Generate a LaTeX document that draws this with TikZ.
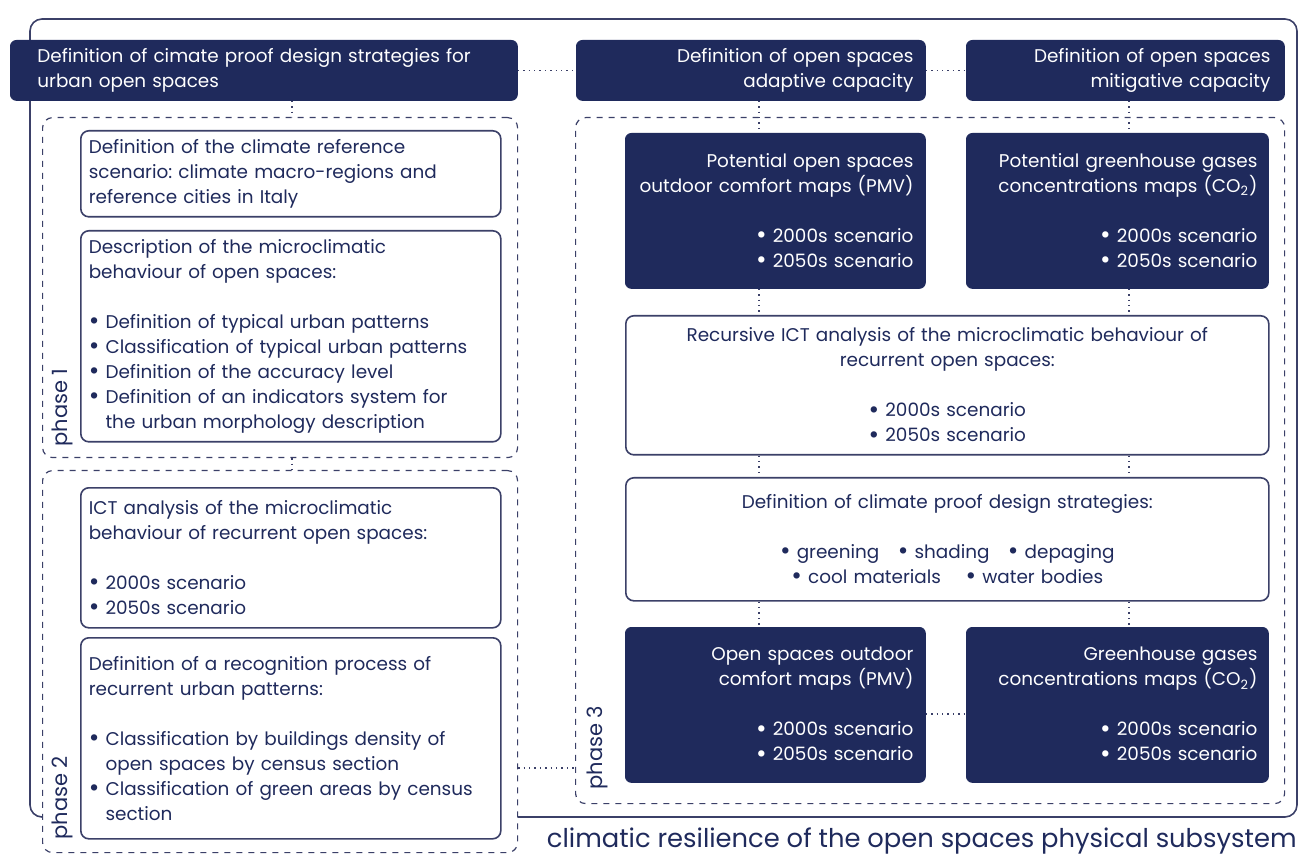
\documentclass[tikz,border=0pt]{standalone}
\usepackage{fontspec}
\setmainfont{Poppins}
\usepackage{tikz}
\frenchspacing

\definecolor{navy}{HTML}{1F2A5C}
\definecolor{edge}{HTML}{3B4068}
\newcommand{\bul}{\raisebox{-0.15ex}{\scalebox{1.4}{\textbullet}}\ }
\newcommand{\hang}{\hphantom{\bul}}

\begin{document}
\begin{tikzpicture}[x=0.5pt,y=-0.5pt,
    every node/.style={font=\fontsize{9.2}{12.5}\selectfont},
    frame/.style={draw=edge, line width=0.8pt, rounded corners=6pt},
    darkbox/.style={fill=navy, draw=navy, rounded corners=3pt, text=white, inner ysep=0pt, anchor=north west},
    whitebox/.style={draw=edge, line width=0.8pt, rounded corners=4pt, fill=white, text=navy, inner xsep=4pt, inner ysep=0pt, anchor=north west},
    phasebox/.style={draw=edge, dashed, line width=0.6pt, rounded corners=5pt, fill=white, anchor=north west, inner sep=0pt},
    link/.style={draw=edge, dotted, line width=0.7pt},
    phaselabel/.style={rotate=90, anchor=west, text=navy, inner sep=0pt, font=\fontsize{10.5}{12}\selectfont}]
    \useasboundingbox (0,0) rectangle (1301,855);

    % outer frame
    \draw[frame] (30,19) rectangle (1297,817);

    % phase frames
    \node[phasebox, minimum width=237.5pt, minimum height=170pt] (ph1) at (42,117) {};
    \node[phasebox, minimum width=237.5pt, minimum height=191pt] (ph2) at (42,470) {};
    \node[phasebox, minimum width=354.5pt, minimum height=343pt] (ph3) at (575,117) {};

    % headers
    \node[darkbox, minimum height=30pt, text width=226.5pt, inner xsep=13.5pt, align=left] (defA) at (10,40)
        {Definition of cimate proof design strategies for\\urban open spaces};
    \node[darkbox, minimum height=30pt, text width=162.5pt, inner xsep=6pt, align=right] (defB) at (576,40)
        {Definition of open spaces\\adaptive capacity};
    \node[darkbox, minimum height=30pt, text width=145pt, inner xsep=7pt, align=right] (defC) at (966,40)
        {Definition of open spaces\\mitigative capacity};

    % phase 1
    \node[whitebox, minimum height=43pt, text width=202pt, align=left] (scen) at (80,130)
        {Definition of the climate reference\\scenario: climate macro-regions and\\reference cities in Italy};
    \node[whitebox, minimum height=105.5pt, text width=202pt, align=left] (descr) at (80,230)
        {Description of the microclimatic\\behaviour of open spaces:\\[12.5pt]
         \bul Definition of typical urban patterns\\
         \bul Classification of typical urban patterns\\
         \bul Definition of the accuracy level\\
         \bul Definition of an indicators system for\\
         \hang the urban morphology description};

    % phase 2
    \node[whitebox, minimum height=70pt, text width=202pt, align=left] (ict) at (80,487)
        {ICT analysis of the microclimatic\\behaviour of recurrent open spaces:\\[12.5pt]
         \bul 2000s scenario\\ \bul 2050s scenario};
    \node[whitebox, minimum height=100.5pt, text width=202pt, align=left] (recog) at (80,637)
        {Definition of a recognition process of\\recurrent urban patterns:\\[12.5pt]
         \bul Classification by buildings density of\\
         \hang open spaces by census section\\
         \bul Classification of green areas by census\\
         \hang section};

    % phase 3
    \node[darkbox, minimum height=77.5pt, text width=138pt, inner xsep=6pt, align=right] (potpmv) at (625,133)
        {Potential open spaces\\outdoor comfort maps (PMV)\\[12.5pt]\bul 2000s scenario\\ \bul 2050s scenario};
    \node[darkbox, minimum height=77.5pt, text width=140pt, inner xsep=5.5pt, align=right] (potco) at (966,133)
        {Potential greenhouse gases\\concentrations maps (CO\textsubscript{2})\\[12.5pt]\bul 2000s scenario\\ \bul 2050s scenario};
    \node[whitebox, minimum height=69.5pt, text width=313.5pt, align=center] (recur) at (625,315)
        {Recursive ICT analysis of the microclimatic behaviour of\\recurrent open spaces:\\[12.5pt]
         \bul 2000s scenario\\ \bul 2050s scenario};
    \node[whitebox, minimum height=61.5pt, text width=313.5pt, align=center] (strat) at (625,477)
        {Definition of climate proof design strategies:\\[12.5pt]
         \bul greening\quad \bul shading\quad \bul depaging\\
         \bul cool materials\quad\ \bul water bodies};
    \node[darkbox, minimum height=77.5pt, text width=138pt, inner xsep=6pt, align=right] (pmv) at (625,627)
        {Open spaces outdoor\\comfort maps (PMV)\\[12.5pt]\bul 2000s scenario\\ \bul 2050s scenario};
    \node[darkbox, minimum height=77.5pt, text width=140pt, inner xsep=5.5pt, align=right] (co) at (966,627)
        {Greenhouse gases\\concentrations maps (CO\textsubscript{2})\\[12.5pt]\bul 2000s scenario\\ \bul 2050s scenario};

    % phase labels
    \node[phaselabel] (lab1) at (62,447) {phase 1};
    \node[phaselabel] (lab2) at (62,840) {phase 2};
    \node[phaselabel] (lab3) at (597,790) {phase 3};

    % caption
    \node[anchor=east, text=navy, inner sep=0pt, font=\fontsize{12.9}{14}\selectfont] (caption) at (1297,841)
        {climatic resilience of the open spaces physical subsystem};

    % dotted links
    \coordinate (colA) at (292,0);
    \coordinate (colB) at (759,0);
    \coordinate (colC) at (1129,0);
    \coordinate (rowP) at (0,768);
    \coordinate (rowQ) at (0,714);
    \draw[link] (defA.east) -- (defB.west);
    \draw[link] (defB.east) -- (defC.west);
    \draw[link] (defA.south -| colA) -- (ph1.north -| colA);
    \draw[link] (ph1.south -| colA) -- (ph2.north -| colA);
    \draw[link] (ph2.east |- rowP) -- (ph3.west |- rowP);
    \draw[link] (defB.south -| colB) -- (potpmv.north -| colB);
    \draw[link] (potpmv.south -| colB) -- (recur.north -| colB);
    \draw[link] (recur.south -| colB) -- (strat.north -| colB);
    \draw[link] (strat.south -| colB) -- (pmv.north -| colB);
    \draw[link] (defC.south -| colC) -- (potco.north -| colC);
    \draw[link] (potco.south -| colC) -- (recur.north -| colC);
    \draw[link] (recur.south -| colC) -- (strat.north -| colC);
    \draw[link] (strat.south -| colC) -- (co.north -| colC);
    \draw[link] (pmv.east |- rowQ) -- (co.west |- rowQ);

\end{tikzpicture}
\end{document}
